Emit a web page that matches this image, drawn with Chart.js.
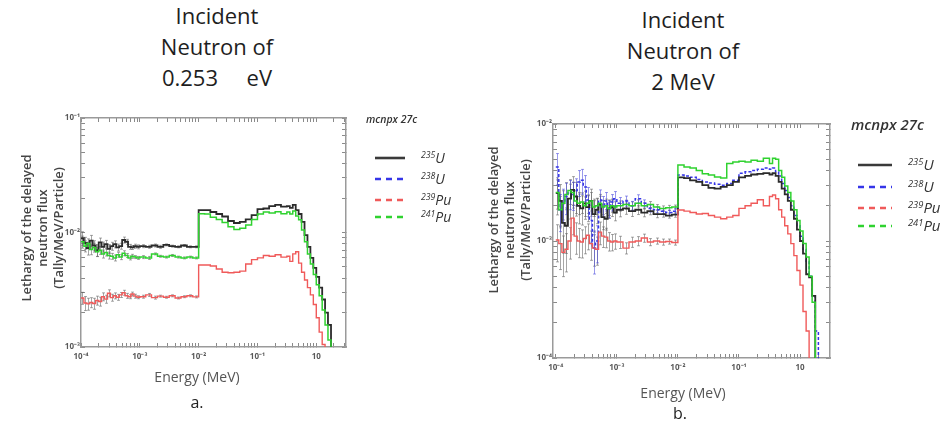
<!DOCTYPE html>
<html>
<head>
<meta charset="utf-8">
<script src="https://cdn.jsdelivr.net/npm/chart.js@4.4.1/dist/chart.umd.min.js"></script>
<style>
  body { margin: 0; width: 943px; height: 425px; background: #fff; position: relative; overflow: hidden; font-family: "Open Sans", sans-serif; }
  canvas { position: absolute; top: 0; }
  .title { position: absolute; text-align: center; font-size: 22px; line-height: 31px; color: #1e1e1e; white-space: pre; }
  .xlab { position: absolute; text-align: center; font-size: 14px; color: #555; }
  .ylab { position: absolute; text-align: center; font-size: 12.9px; line-height: 16px; font-weight: 600; color: #444; transform: rotate(-90deg); white-space: pre; }
  .cap { position: absolute; text-align: center; font-size: 16px; color: #222; }
  .legend { position: absolute; color: #333; font-style: italic; }
  .legend .head { position: absolute; white-space: nowrap; }
  .legend svg { position: absolute; }
  .legend .lab { position: absolute; white-space: nowrap; }
  .legend sup { font-size: 0.62em; vertical-align: 0.55em; }
</style>
</head>
<body>

<div class="title" style="left:117px; top:0px; width:200px;">Incident
Neutron of
0.253     eV</div>
<div class="title" style="left:583px; top:4px; width:200px;">Incident
Neutron of
2 MeV</div>

<canvas id="panelA" width="470" height="425" style="left:0px;"></canvas>
<canvas id="panelB" width="473" height="425" style="left:470px;"></canvas>

<!-- rotated y-axis titles: box centre at (cx, cy), 200 wide x 48 tall before rotation -->
<div class="ylab" style="left:-58px; top:204px; width:200px; height:48px;">Lethargy of the delayed
neutron flux
(Tally/MeV/Particle)</div>
<div class="ylab" style="left:409px; top:196px; width:200px; height:48px;">Lethargy of the delayed
neutron flux
(Tally/MeV/Particle)</div>

<div class="xlab" style="left:137px; top:367px; width:120px;">Energy (MeV)</div>
<div class="cap" style="left:177px; top:391px; width:40px;">a.</div>
<div class="xlab" style="left:623px; top:383px; width:120px;">Energy (MeV)</div>
<div class="cap" style="left:660px; top:402px; width:40px;">b.</div>

<div id="legendA" class="legend"></div>
<div id="legendB" class="legend"></div>

<script>
// Lower bin edges of the energy tally (MeV); the last entry closes the final bin.
const energyEdges = [
  1.00e-4, 1.12e-4, 1.26e-4, 1.41e-4, 1.58e-4, 1.78e-4, 2.00e-4, 2.24e-4, 2.51e-4, 2.82e-4,
  3.16e-4, 3.55e-4, 3.98e-4, 4.47e-4, 5.01e-4, 5.62e-4, 6.31e-4, 7.08e-4, 7.94e-4, 8.91e-4,
  1.00e-3, 1.26e-3, 1.58e-3, 2.00e-3, 2.51e-3, 3.16e-3, 3.98e-3, 5.01e-3, 6.31e-3, 7.94e-3,
  1.00e-2, 1.26e-2, 1.58e-2, 2.00e-2, 2.51e-2, 3.16e-2, 3.98e-2, 5.01e-2, 6.31e-2, 7.94e-2,
  0.100, 0.126, 0.158, 0.200, 0.251,
  0.316, 0.355, 0.398, 0.447, 0.501, 0.562, 0.631, 0.708, 0.794, 0.891,
  1.00, 1.12, 1.26, 1.41, 1.58, 1.78, 2.00, 2.24
];

// (a) incident neutron of 0.253 eV — lethargy of delayed neutron flux per bin
const thermalU235 = [
  8.9e-3, 8.1e-3, 7.3e-3, 8.5e-3, 7.7e-3, 7.0e-3, 8.2e-3, 7.5e-3, 7.9e-3, 7.2e-3,
  7.6e-3, 7.9e-3, 7.4e-3, 7.6e-3, 8.6e-3, 8.3e-3, 7.5e-3, 7.4e-3, 7.6e-3, 7.5e-3,
  7.6e-3, 7.5e-3, 7.7e-3, 7.5e-3, 7.8e-3, 7.6e-3, 7.5e-3, 7.7e-3, 7.5e-3, 7.5e-3,
  1.57e-2, 1.57e-2, 1.51e-2, 1.45e-2, 1.38e-2, 1.26e-2, 1.21e-2, 1.24e-2, 1.30e-2, 1.42e-2,
  1.60e-2, 1.62e-2, 1.70e-2, 1.74e-2, 1.68e-2,
  1.70e-2, 1.64e-2, 1.74e-2, 1.57e-2, 1.45e-2, 1.24e-2, 9.5e-3, 7.5e-3, 6.0e-3, 4.9e-3,
  4.1e-3, 3.3e-3, 2.6e-3, 2.0e-3, 1.56e-3, 8.0e-4, 5.0e-4
];
const thermalU238 = [];
const thermalPu239 = [
  2.68e-3, 2.42e-3, 2.38e-3, 2.45e-3, 2.40e-3, 2.55e-3, 2.50e-3, 2.75e-3, 2.62e-3, 2.95e-3,
  2.70e-3, 2.80e-3, 2.72e-3, 2.85e-3, 2.98e-3, 2.80e-3, 2.75e-3, 2.90e-3, 2.78e-3, 2.72e-3,
  2.75e-3, 2.85e-3, 2.70e-3, 2.78e-3, 2.72e-3, 2.80e-3, 2.68e-3, 2.75e-3, 2.80e-3, 2.74e-3,
  5.2e-3, 5.2e-3, 5.1e-3, 4.8e-3, 4.5e-3, 4.45e-3, 4.5e-3, 4.6e-3, 5.3e-3, 5.8e-3,
  6.0e-3, 6.3e-3, 6.2e-3, 6.4e-3, 6.1e-3,
  6.2e-3, 5.6e-3, 6.5e-3, 6.8e-3, 5.4e-3, 4.5e-3, 3.85e-3, 3.3e-3, 2.85e-3, 2.35e-3,
  1.8e-3, 1.35e-3, 1.05e-3, 5.0e-4, 4.0e-4, 3.0e-4, 2.0e-4
];
const thermalPu241 = [
  8.3e-3, 7.6e-3, 8.0e-3, 7.1e-3, 7.4e-3, 6.8e-3, 7.0e-3, 6.5e-3, 6.7e-3, 6.3e-3,
  6.2e-3, 6.0e-3, 6.4e-3, 6.1e-3, 6.6e-3, 6.3e-3, 6.0e-3, 6.2e-3, 6.1e-3, 6.0e-3,
  6.1e-3, 6.0e-3, 6.5e-3, 6.2e-3, 6.1e-3, 6.3e-3, 6.1e-3, 6.0e-3, 6.1e-3, 6.0e-3,
  1.46e-2, 1.45e-2, 1.36e-2, 1.30e-2, 1.22e-2, 1.12e-2, 1.06e-2, 1.09e-2, 1.16e-2, 1.30e-2,
  1.45e-2, 1.51e-2, 1.48e-2, 1.52e-2, 1.46e-2,
  1.51e-2, 1.45e-2, 1.54e-2, 1.39e-2, 1.29e-2, 1.05e-2, 8.3e-3, 6.5e-3, 5.3e-3, 4.3e-3,
  3.5e-3, 2.8e-3, 2.1e-3, 1.56e-3, 1.15e-3, 5.0e-4, 4.0e-4
];

// (b) incident neutron of 2 MeV
const fastU235 = [
  2.57e-3, 2.20e-3, 1.43e-3, 1.35e-3, 2.30e-3, 2.73e-3, 2.40e-3, 2.00e-3, 1.90e-3, 2.10e-3,
  1.95e-3, 2.20e-3, 1.70e-3, 1.85e-3, 2.05e-3, 1.60e-3, 1.55e-3, 1.90e-3, 1.95e-3, 1.75e-3,
  1.85e-3, 1.90e-3, 1.80e-3, 1.85e-3, 1.75e-3, 1.80e-3, 1.70e-3, 1.70e-3, 1.65e-3, 1.68e-3,
  3.50e-3, 3.45e-3, 3.30e-3, 3.20e-3, 3.00e-3, 2.85e-3, 2.80e-3, 2.90e-3, 3.00e-3, 3.20e-3,
  3.50e-3, 3.60e-3, 3.70e-3, 3.75e-3, 3.80e-3,
  3.70e-3, 3.80e-3, 3.60e-3, 3.20e-3, 2.80e-3, 2.50e-3, 2.20e-3, 1.85e-3, 1.55e-3, 1.25e-3,
  1.00e-3, 7.8e-4, 5.2e-4, 4.9e-4, 3.4e-4, 5.0e-5, 3.0e-5
];
const fastU238 = [
  4.30e-3, 1.85e-3, 2.10e-3, 2.40e-3, 2.57e-3, 2.50e-3, 2.70e-3, 3.20e-3, 3.30e-3, 2.90e-3,
  2.24e-3, 1.50e-3, 8.7e-4, 1.00e-3, 2.24e-3, 2.00e-3, 2.20e-3, 1.90e-3, 2.15e-3, 2.30e-3,
  2.10e-3, 2.20e-3, 2.00e-3, 2.30e-3, 2.10e-3, 1.90e-3, 1.85e-3, 1.80e-3, 1.75e-3, 1.80e-3,
  3.66e-3, 3.60e-3, 3.50e-3, 3.35e-3, 3.20e-3, 3.13e-3, 3.05e-3, 3.00e-3, 3.10e-3, 3.30e-3,
  3.80e-3, 3.90e-3, 4.00e-3, 4.10e-3, 4.20e-3,
  4.10e-3, 4.20e-3, 3.90e-3, 3.60e-3, 3.10e-3, 2.70e-3, 2.35e-3, 2.00e-3, 1.65e-3, 1.35e-3,
  1.10e-3, 8.5e-4, 6.7e-4, 5.0e-4, 3.4e-4, 1.7e-4, 3.0e-5
];
const fastPu239 = [
  1.02e-3, 9.5e-4, 8.0e-4, 8.5e-4, 1.00e-3, 1.57e-3, 1.10e-3, 1.00e-3, 9.8e-4, 1.05e-3,
  1.12e-3, 9.5e-4, 8.7e-4, 8.5e-4, 1.19e-3, 1.10e-3, 1.08e-3, 1.00e-3, 9.8e-4, 1.00e-3,
  9.8e-4, 8.7e-4, 9.8e-4, 1.00e-3, 1.06e-3, 9.8e-4, 1.00e-3, 9.8e-4, 9.9e-4, 9.7e-4,
  1.84e-3, 1.80e-3, 1.75e-3, 1.70e-3, 1.72e-3, 1.65e-3, 1.60e-3, 1.55e-3, 1.60e-3, 1.65e-3,
  1.90e-3, 2.00e-3, 2.10e-3, 2.25e-3, 2.00e-3,
  2.40e-3, 2.47e-3, 2.30e-3, 1.85e-3, 1.60e-3, 1.35e-3, 1.15e-3, 9.5e-4, 7.5e-4, 5.6e-4,
  4.2e-4, 2.5e-4, 1.7e-4, 4.0e-5, 3.0e-5, 2.0e-5, 2.0e-5
];
const fastPu241 = [
  2.60e-3, 1.85e-3, 2.10e-3, 2.50e-3, 2.70e-3, 2.60e-3, 2.20e-3, 2.10e-3, 2.15e-3, 2.00e-3,
  2.10e-3, 2.20e-3, 1.95e-3, 2.00e-3, 2.10e-3, 1.95e-3, 2.00e-3, 1.90e-3, 2.00e-3, 1.95e-3,
  2.00e-3, 2.05e-3, 2.00e-3, 2.10e-3, 2.00e-3, 2.05e-3, 1.95e-3, 1.90e-3, 1.92e-3, 1.95e-3,
  4.46e-3, 4.30e-3, 4.20e-3, 4.00e-3, 3.75e-3, 3.66e-3, 3.52e-3, 3.45e-3, 4.60e-3, 4.73e-3,
  4.80e-3, 4.73e-3, 4.90e-3, 4.80e-3, 5.10e-3,
  4.60e-3, 5.10e-3, 5.00e-3, 4.00e-3, 3.50e-3, 2.95e-3, 2.60e-3, 2.20e-3, 1.85e-3, 1.50e-3,
  1.22e-3, 9.5e-4, 7.3e-4, 5.0e-4, 3.0e-4, 4.0e-5, 3.0e-5
];

// Relative statistical errors of the low-energy bins
const thermalU235Err = [0.14, 0.12, 0.13, 0.11, 0.10, 0.12, 0.09, 0.10, 0.08, 0.09, 0.08, 0.07, 0.07, 0.06, 0.06, 0.05, 0.05, 0.04, 0.04, 0.04, 0.03, 0.03, 0.03, 0.03, 0.02, 0.02, 0.02, 0.02, 0.02, 0.02];
const thermalPu239Err = [0.12, 0.14, 0.12, 0.10, 0.11, 0.09, 0.09, 0.08, 0.08, 0.07, 0.07, 0.06, 0.06, 0.05, 0.05, 0.05, 0.04, 0.04, 0.04, 0.03, 0.03, 0.03, 0.03, 0.02, 0.02, 0.02, 0.02, 0.02, 0.02, 0.02];
const thermalPu241Err = [0.12, 0.11, 0.10, 0.10, 0.09, 0.09, 0.08, 0.08, 0.07, 0.07, 0.06, 0.06, 0.05, 0.05, 0.05, 0.04, 0.04, 0.04, 0.03, 0.03, 0.03, 0.03, 0.02, 0.02, 0.02, 0.02, 0.02, 0.02, 0.02, 0.02];
const fastU235Err = [0.35, 0.38, 0.45, 0.42, 0.33, 0.30, 0.32, 0.30, 0.28, 0.27, 0.25, 0.26, 0.30, 0.24, 0.22, 0.22, 0.20, 0.18, 0.17, 0.15, 0.13, 0.11, 0.10, 0.09, 0.08, 0.07, 0.07, 0.06, 0.05, 0.05];
const fastU238Err = [0.30, 0.35, 0.32, 0.30, 0.28, 0.27, 0.26, 0.25, 0.24, 0.25, 0.28, 0.35, 0.40, 0.35, 0.22, 0.20, 0.18, 0.17, 0.16, 0.15, 0.12, 0.10, 0.09, 0.08, 0.07, 0.07, 0.06, 0.05, 0.05, 0.05];
const fastPu239Err = [0.35, 0.40, 0.38, 0.36, 0.30, 0.28, 0.30, 0.28, 0.27, 0.26, 0.25, 0.28, 0.30, 0.27, 0.22, 0.20, 0.19, 0.18, 0.16, 0.15, 0.12, 0.11, 0.10, 0.09, 0.08, 0.07, 0.06, 0.06, 0.05, 0.05];
const fastPu241Err = [0.28, 0.30, 0.28, 0.26, 0.24, 0.22, 0.22, 0.20, 0.20, 0.19, 0.18, 0.18, 0.17, 0.16, 0.15, 0.14, 0.14, 0.13, 0.12, 0.11, 0.10, 0.09, 0.08, 0.07, 0.06, 0.06, 0.05, 0.05, 0.05, 0.04];

// Axis decades and their labels
const xTickValues = [1e-4, 1e-3, 1e-2, 1e-1, 1];
const xTickLabels = ['10⁻⁴', '10⁻³', '10⁻²', '10⁻¹', '10'];
const yTickValuesA = [1e-3, 1e-2, 1e-1];
const yTickLabelsA = ['10⁻³', '10⁻²', '10⁻¹'];
const yTickValuesB = [1e-4, 1e-3, 1e-2];
const yTickLabelsB = ['10⁻⁴', '10⁻³', '10⁻²'];

const isotopeNames = ['235U', '238U', '239Pu', '241Pu'];
const seriesStyle = {
  '235U':  { color: '#2b2b2b', width: 1.8, dash: [] },
  '238U':  { color: '#3535e8', width: 1.5, dash: [3, 2] },
  '239Pu': { color: '#f05a5a', width: 1.4, dash: [] },
  '241Pu': { color: '#2fd22f', width: 1.5, dash: [] }
};

// one point per lower bin edge plus the closing edge, drawn as a step histogram
function histogram(values) {
  const pts = values.map((v, i) => ({ x: energyEdges[i], y: v }));
  if (values.length) pts.push({ x: energyEdges[values.length], y: values[values.length - 1] });
  return pts;
}

function logTicks(decades, min, max) {
  const ticks = [];
  decades.forEach(d => {
    for (let k = 1; k <= 9; k++) {
      const v = k * d;
      if (v >= min * 0.999 && v <= max * 1.001) ticks.push({ value: v });
    }
  });
  return ticks;
}

function labelFor(values, labels) {
  return (value) => {
    const i = values.findIndex(v => Math.abs(v - value) / v < 1e-6);
    return i >= 0 ? labels[i] : '';
  };
}

// grey statistical error bars, drawn under the histogram lines
const errorBars = {
  id: 'errorBars',
  beforeDatasetsDraw(chart) {
    const { ctx, chartArea, scales } = chart;
    ctx.save();
    ctx.beginPath();
    ctx.rect(chartArea.left, chartArea.top, chartArea.width, chartArea.height);
    ctx.clip();
    chart.data.datasets.forEach(ds => {
      if (!ds.relErrors) return;
      ctx.strokeStyle = ds.errorColor;
      ctx.lineWidth = 1;
      ds.relErrors.forEach((e, i) => {
        const v = ds.binValues[i];
        const xc = Math.round(scales.x.getPixelForValue(Math.sqrt(energyEdges[i] * energyEdges[i + 1])));
        const y1 = scales.y.getPixelForValue(v * (1 + e));
        const y2 = scales.y.getPixelForValue(Math.max(v * (1 - e), 1e-9));
        ctx.beginPath();
        ctx.moveTo(xc + 0.5, y1);
        ctx.lineTo(xc + 0.5, y2);
        ctx.moveTo(xc - 1, y1); ctx.lineTo(xc + 2, y1);
        ctx.moveTo(xc - 1, y2); ctx.lineTo(xc + 2, y2);
        ctx.stroke();
      });
    });
    ctx.restore();
  }
};

function makeDataset(name, values, errors) {
  const s = seriesStyle[name];
  return {
    label: name,
    data: histogram(values),
    binValues: values,
    relErrors: errors,
    errorColor: name === '238U' ? 'rgba(70,70,220,0.55)' : 'rgba(95,95,95,0.55)',
    borderColor: s.color,
    borderWidth: s.width,
    borderDash: s.dash,
    stepped: 'before',
    pointRadius: 0,
    fill: false
  };
}

function axisCommon(position, min, max, decades, labels, showLabels, fitSize, tickPad, font) {
  const horizontal = position === 'top' || position === 'bottom';
  return {
    type: 'logarithmic',
    position,
    min, max,
    display: true,
    afterBuildTicks: (axis) => { axis.ticks = logTicks(decades, min, max); },
    afterFit: (axis) => { if (horizontal) axis.height = fitSize; else axis.width = fitSize; },
    border: { display: true, color: '#9a9a9a', width: 1.5 },
    grid: { drawOnChartArea: false, drawTicks: true, tickLength: -4, color: '#8a8a8a', lineWidth: 1 },
    ticks: {
      display: showLabels,
      autoSkip: false,
      maxRotation: 0,
      padding: tickPad,
      color: '#5a5a5a',
      font: font,
      callback: labelFor(decades, labels)
    }
  };
}

function makePanel(canvasId, cfg) {
  const tickFont = { family: 'Open Sans', size: 8, weight: '700' };
  return new Chart(document.getElementById(canvasId), {
    type: 'line',
    data: { datasets: cfg.datasets },
    plugins: [errorBars],
    options: {
      responsive: false,
      animation: false,
      layout: { padding: cfg.padding },
      plugins: { legend: { display: false }, tooltip: { enabled: false } },
      scales: {
        x: axisCommon('bottom', cfg.xMin, cfg.xMax, xTickValues, xTickLabels, true, cfg.xAxisHeight, cfg.xTickPad, tickFont),
        x2: axisCommon('top', cfg.xMin, cfg.xMax, xTickValues, xTickLabels, false, 0, 0, tickFont),
        y: axisCommon('left', cfg.yMin, cfg.yMax, cfg.yDecades, cfg.yLabels, true, cfg.yAxisWidth, 5, tickFont),
        y2: axisCommon('right', cfg.yMin, cfg.yMax, cfg.yDecades, cfg.yLabels, false, 0, 0, tickFont)
      }
    }
  });
}

makePanel('panelA', {
  datasets: [
    makeDataset('239Pu', thermalPu239, thermalPu239Err),
    makeDataset('241Pu', thermalPu241, thermalPu241Err),
    makeDataset('235U', thermalU235, thermalU235Err),
    makeDataset('238U', thermalU238, null)
  ],
  padding: { left: 0, top: 118, right: 124, bottom: 0 },
  xMin: 1e-4, xMax: 3.2, yMin: 1e-3, yMax: 1e-1,
  yDecades: yTickValuesA, yLabels: yTickLabelsA,
  yAxisWidth: 81, xAxisHeight: 78, xTickPad: 9
});

makePanel('panelB', {
  datasets: [
    makeDataset('239Pu', fastPu239, fastPu239Err),
    makeDataset('241Pu', fastPu241, fastPu241Err),
    makeDataset('235U', fastU235, fastU235Err),
    makeDataset('238U', fastU238, fastU238Err)
  ],
  padding: { left: 0, top: 124, right: 113, bottom: 0 },
  xMin: 9.0e-5, xMax: 3.1, yMin: 1e-4, yMax: 1e-2,
  yDecades: yTickValuesB, yLabels: yTickLabelsB,
  yAxisWidth: 83, xAxisHeight: 67, xTickPad: 9
});

// Legends with superscript mass numbers
function buildLegend(id, geo) {
  const box = document.getElementById(id);
  const head = document.createElement('div');
  head.className = 'head';
  head.textContent = 'mcnpx 27c';
  head.style.cssText = `left:${geo.headX}px; top:${geo.headY}px; font-size:${geo.headSize}px; font-weight:600;`;
  box.appendChild(head);
  isotopeNames.forEach((name, i) => {
    const s = seriesStyle[name];
    const y = geo.rows[i];
    const svg = document.createElementNS('http://www.w3.org/2000/svg', 'svg');
    svg.setAttribute('width', geo.lineX2 - geo.lineX1);
    svg.setAttribute('height', 6);
    svg.style.left = geo.lineX1 + 'px';
    svg.style.top = (y - 3) + 'px';
    const ln = document.createElementNS('http://www.w3.org/2000/svg', 'line');
    ln.setAttribute('x1', 0); ln.setAttribute('x2', geo.lineX2 - geo.lineX1);
    ln.setAttribute('y1', 3); ln.setAttribute('y2', 3);
    ln.setAttribute('stroke', name === '235U' ? '#3a3a3a' : s.color);
    ln.setAttribute('stroke-width', 2.6);
    if (name !== '235U') ln.setAttribute('stroke-dasharray', '6 5');
    svg.appendChild(ln);
    box.appendChild(svg);
    const lab = document.createElement('div');
    lab.className = 'lab';
    const mass = name.match(/^\d+/)[0];
    const el = name.slice(mass.length);
    lab.innerHTML = `<sup>${mass}</sup>${el}`;
    lab.style.cssText = `left:${geo.labelX}px; top:${y - geo.labelSize * 0.74}px; font-size:${geo.labelSize}px;`;
    box.appendChild(lab);
  });
}

buildLegend('legendA', {
  headX: 366, headY: 112, headSize: 10.5,
  lineX1: 375, lineX2: 405, rows: [158, 179, 200, 217],
  labelX: 421, labelSize: 14
});
buildLegend('legendB', {
  headX: 851, headY: 114, headSize: 15,
  lineX1: 858, lineX2: 892, rows: [165, 187, 208, 226],
  labelX: 908, labelSize: 15
});
</script>
</body>
</html>
